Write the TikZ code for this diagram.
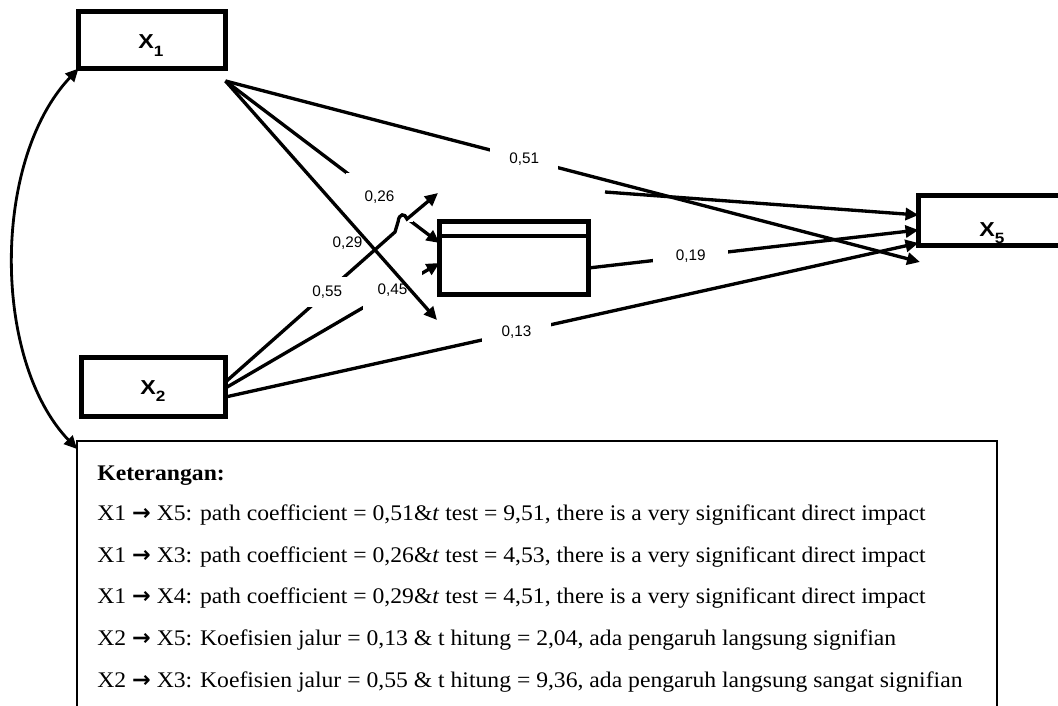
\documentclass[tikz,border=0pt]{standalone}
\usepackage{fontspec}
\setmainfont{Liberation Serif}[FakeStretch=1.06]
\newfontfamily\arialfont{Liberation Sans}
\newfontfamily\arialwide{Liberation Sans}[FakeStretch=1.15]
\newfontfamily\arrowfont{DejaVu Sans}
\usetikzlibrary{arrows.meta}
\newcommand{\arr}{{\arrowfont\bfseries →}}
\newcommand{\xsub}[1]{\raisebox{-4.5pt}{\fontsize{8.5}{9}\selectfont #1}}

\begin{document}
\begin{tikzpicture}[
            x=0.02cm, y=-0.02cm,
            vbox/.style={rectangle, draw, line width=2.8pt, inner sep=0pt, outer sep=0pt},
            vname/.style={anchor=base, inner sep=0pt, font=\fontsize{11.5}{12}\selectfont\arialwide\bfseries},
            num/.style={fill=white, inner xsep=0.38cm, inner ysep=0.1cm, font=\fontsize{8.7}{10}\selectfont\arialfont},
            legtxt/.style={anchor=base west, inner sep=0pt, font=\fontsize{12.7}{14}\selectfont},
            tip/.style={-{Triangle[length=0.26cm, width=0.24cm]}},
            every edge/.style={draw, tip, line width=1.9pt}
        ]
        \clip (0,0) rectangle (1058,706);
        \node[vbox, minimum width=2.94cm, minimum height=1.14cm] (x1) at (152,40) {};
        \node[vname, anchor=base west] (x1t) at (138,49) {X\xsub{1}};
        \node[vbox, minimum width=2.88cm, minimum height=1.18cm] (x2) at (153.5,387) {};
        \node[vname, anchor=base west] (x2t) at (140,394) {X\xsub{2}};
        \node[vbox, minimum width=2.98cm, minimum height=1.46cm] (mid) at (514,258) {};
        \draw[line width=2.8pt] ([yshift=-0.29cm]mid.north west) -- ([yshift=-0.29cm]mid.north east);
        % X5 label, cut by the frame
        \begin{scope}
            \clip (900,190) rectangle (1058,246);
            \node[vname, anchor=base west] (x5t) at (979,236) {X\xsub{5}};
        \end{scope}
        \node[vbox, minimum width=4cm, minimum height=1cm] (x5) at (1018.5,220.5) {};
        \node[rectangle, draw, line width=1.3pt, minimum width=18.4cm, minimum height=6cm, inner sep=0pt, outer sep=0pt] (leg) at (537,591) {};
        \coordinate (x1o) at ([yshift=-0.25cm]x1.south east);
        \coordinate (t51) at (920,262);
        \coordinate (t55) at (438,193);
        \coordinate (t29) at (437,320);
        \coordinate (f4) at (605,192);
        \draw (x1o) edge node[num, pos=0.43] {0,51} (t51);
        \draw (x1o) edge node[num, pos=0.72, inner sep=0.37cm] {0,26} ([yshift=0.3cm]mid.west);
        \draw ([yshift=-0.2cm]x2.east) edge node[num, pos=0.42, inner xsep=0.39cm, inner ysep=0.12cm] {0,13} ([yshift=-0.45cm]x5.west);
        \draw ([yshift=-0.2cm]mid.east) edge node[num, pos=0.31, inner xsep=0.45cm] {0,19} ([yshift=-0.19cm]x5.west);
        \draw ([yshift=-0.02cm]x2.east) edge node[num, pos=0.78, inner sep=0.3cm] {0,45} ([yshift=-0.1cm]mid.west);
        % hop over the 0,26 line
        \draw[tip, line width=1.9pt] ([yshift=0.1cm]x2.east) -- node[num, pos=0.6, inner sep=0.17cm] {0,55} (395,232)
            -- (398,222) .. controls (399,213) and (405,213) .. (407,219) -- (t55);
        \draw (x1o) edge node[num, fill=none, inner sep=1pt, pos=0.68, left=2pt] {0,29} (t29);
        \draw (f4) edge ([yshift=0.11cm]x5.west);
        \draw[line width=1.6pt, {Triangle[length=0.26cm, width=0.24cm]}-{Triangle[length=0.26cm, width=0.24cm]}]
            (x1.south west) .. controls (-8,160) and (-8,360) .. ([yshift=-0.16cm]leg.north west);
        % legend
        \node[legtxt] (k0) at (97,480) {\textbf{Keterangan:}};
        \node[legtxt] (k1) at (97,520) {X1 \arr{} X5: path coefficient = 0,51\&\textit{t} test = 9,51, there is a very significant direct impact};
        \node[legtxt] (k2) at (97,562) {X1 \arr{} X3: path coefficient = 0,26\&\textit{t} test = 4,53, there is a very significant direct impact};
        \node[legtxt] (k3) at (97,603) {X1 \arr{} X4: path coefficient = 0,29\&\textit{t} test = 4,51, there is a very significant direct impact};
        \node[legtxt] (k4) at (97,645) {X2 \arr{} X5: Koefisien jalur = 0,13 \& t hitung = 2,04, ada pengaruh langsung signifian};
        \node[legtxt] (k5) at (97,687) {X2 \arr{} X3: Koefisien jalur = 0,55 \& t hitung = 9,36, ada pengaruh langsung sangat signifian};
    \end{tikzpicture}
\end{document}
